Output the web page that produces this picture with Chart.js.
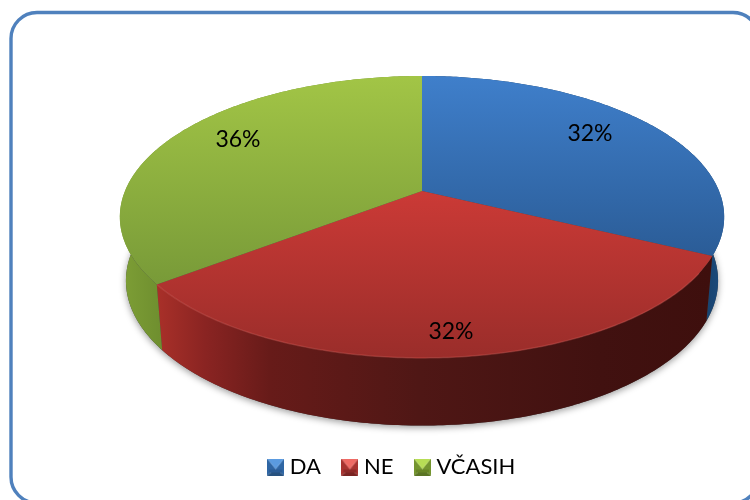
<!DOCTYPE html>
<html><head><meta charset="utf-8">
<style>html,body{margin:0;padding:0;background:#fff;overflow:hidden}#w{width:750px;height:500px;position:relative}</style>
<script src="https://cdn.jsdelivr.net/npm/chart.js@4"></script>
</head><body><div id="w"><canvas id="c" width="750" height="500"></canvas></div>
<script>
const categories = ['DA', 'NE', 'VČASIH'];
const seriesValues = [32.3, 32.4, 35.5];

const FONT = 'Lato, "Open Sans", sans-serif';
const topMap = {cx:422, cy:191, a:297, b:136.2, k:0.184};
const botMap = {cx:422, cy:254, a:291, b:140, k:0.184};
function project(m, ang, f){
  const u=Math.cos(ang)*f, v=Math.sin(ang)*f, w=1-m.k*v;
  return [m.cx+m.a*u/w, m.cy+m.b*v/w];
}
const topStops = [[[76,'#3f7fcb'],[262,'#2a5b95']],[[191,'#cb3a36'],[358,'#9a2d2a']],[[76,'#a2c546'],[285,'#789a38']]];
const wallStops = [
  [[690,'#143a60'],[723,'#1c4c7e']],
  [[157,'#a93029'],[205,'#8a2422'],[270,'#671b19'],[420,'#4f1715'],[600,'#411110'],[712,'#3e0f0d']],
  [[120,'#7e9f36'],[160,'#6f8f2f']]
];
const labelAnchors = [[590,134],[451,332],[238,140]];

function grad(ctx, stops, horiz){
  const f=stops[0][0], l=stops[stops.length-1][0];
  const g = horiz ? ctx.createLinearGradient(f,0,l,0) : ctx.createLinearGradient(0,f,0,l);
  stops.forEach(s=>g.addColorStop((s[0]-f)/(l-f), s[1]));
  return g;
}
function arcPoints(m, a0, a1){
  const n=Math.max(8,Math.ceil((a1-a0)*80)), p=[];
  for(let i=0;i<=n;i++) p.push(project(m, a0+(a1-a0)*i/n, 1));
  return p;
}
function trace(ctx, pts){ pts.forEach((p,i)=> i?ctx.lineTo(p[0],p[1]):ctx.moveTo(p[0],p[1])); }
function trace2(ctx,pts){ pts.forEach(p=>ctx.lineTo(p[0],p[1])); }

const frame = {
  id:'frame',
  beforeDraw(chart){
    const ctx=chart.ctx; ctx.save();
    ctx.strokeStyle='#4f81bd'; ctx.lineWidth=3.4;
    ctx.beginPath(); ctx.roundRect(11,12.5,748,490.5,26); ctx.stroke();
    ctx.restore();
  }
};
const pie3d = {
  id:'pie3d',
  beforeDatasetsDraw(chart){
    const ctx=chart.ctx, arcs=chart.getDatasetMeta(0).data;
    ctx.save();
    ctx.save();
    ctx.shadowColor='rgba(0,0,0,0.4)'; ctx.shadowBlur=7; ctx.shadowOffsetY=2; ctx.shadowOffsetX=0;
    ctx.fillStyle='#444';
    ctx.beginPath(); trace(ctx, arcPoints(botMap,0,Math.PI*2)); ctx.closePath(); ctx.fill();
    ctx.restore();
    arcs.forEach((arc,i)=>{
      const t=arcPoints(topMap,arc.startAngle,arc.endAngle), b=arcPoints(botMap,arc.startAngle,arc.endAngle).reverse();
      ctx.fillStyle=grad(ctx,wallStops[i],true);
      ctx.beginPath(); trace(ctx,t.concat(b)); ctx.closePath(); ctx.fill();
    });
    arcs.forEach((arc,i)=>{
      const t=arcPoints(topMap,arc.startAngle,arc.endAngle);
      ctx.fillStyle=grad(ctx,topStops[i],false);
      ctx.beginPath(); ctx.moveTo(topMap.cx,topMap.cy); trace2(ctx,t); ctx.closePath(); ctx.fill();
    });
    const red=arcs[1];
    ctx.strokeStyle='rgba(222,90,84,0.35)'; ctx.lineWidth=1.5;
    ctx.beginPath(); trace(ctx,arcPoints(topMap,red.startAngle+0.12,red.endAngle)); ctx.stroke();
    ctx.restore();
    ctx.save();
    ctx.fillStyle='#000'; ctx.font='23px '+FONT; ctx.textAlign='center'; ctx.textBaseline='middle';
    seriesValues.forEach((v,i)=> ctx.fillText(Math.round(v)+'%',labelAnchors[i][0],labelAnchors[i][1]));
    ctx.restore();
    return false;
  }
};

function legendIcon(top,left,right,bottom,core){
  const c=document.createElement('canvas'); c.width=17; c.height=17;
  const x=c.getContext('2d'); const s=17,e=3;
  const tri=(col,a)=>{x.fillStyle=col;x.beginPath();a.forEach((p,i)=>i?x.lineTo(p[0],p[1]):x.moveTo(p[0],p[1]));x.closePath();x.fill();};
  tri(left,[[0,0],[s/2,s/2+2],[0,s]]); tri(right,[[s,0],[s/2,s/2+2],[s,s]]);
  tri(bottom,[[0,s],[s/2,s/2+2],[s,s]]); tri(top,[[0,0],[s,0],[s/2,s/2+2]]);
  x.fillStyle=core; x.fillRect(e-1,s-e-3,s-2*e+2,3);
  return c;
}
const icons=[
  legendIcon('#5b9be0','#2f66a4','#2f66a4','#27517f','#2b5c96'),
  legendIcon('#ef6a64','#a83330','#a83330','#7a2422','#8e2a28'),
  legendIcon('#b7dd55','#74952f','#74952f','#5a7424','#688526')
];

new Chart(document.getElementById('c'),{
  type:'pie',
  data:{labels:categories,datasets:[{data:seriesValues,backgroundColor:['#3a76bd','#b8332f','#95b740'],borderWidth:0}]},
  plugins:[frame,pie3d],
  options:{
    responsive:false,animation:false,
    layout:{padding:{left:38,right:0,top:0,bottom:12}},
    plugins:{
      tooltip:{enabled:false},
      legend:{position:'bottom',labels:{
        usePointStyle:true,pointStyleWidth:6,padding:26,color:'#000',
        font:{family:FONT,size:22},
        generateLabels(chart){
          return categories.map((t,i)=>({text:t,pointStyle:icons[i],fillStyle:'#000',strokeStyle:'#000',lineWidth:0,index:i,fontColor:'#000'}));
        }
      }}
    }
  }
});
</script></body></html>
